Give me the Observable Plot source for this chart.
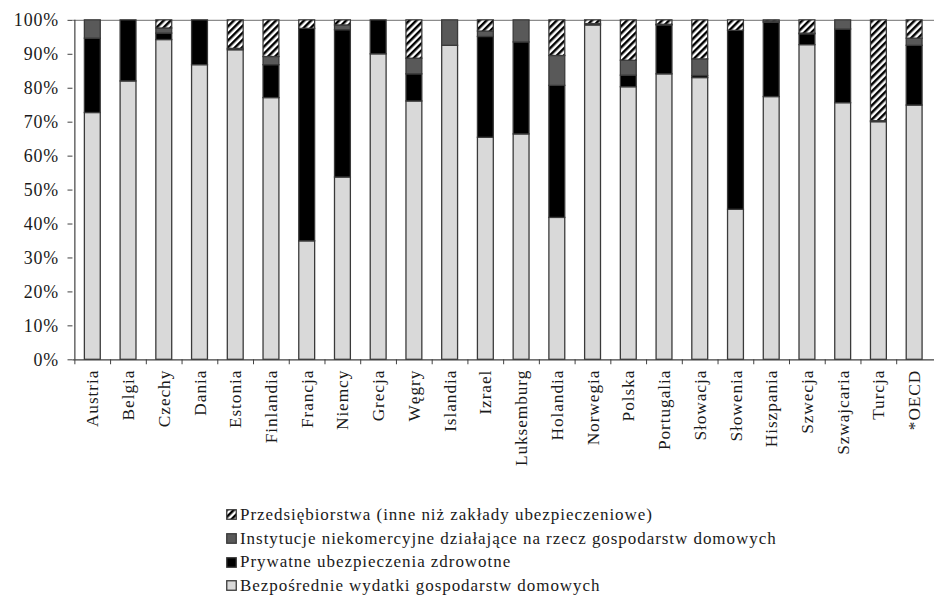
<!DOCTYPE html>
<html><head><meta charset="utf-8">
<script src="https://cdn.jsdelivr.net/npm/d3@7"></script>
<script src="https://cdn.jsdelivr.net/npm/@observablehq/plot@0.6"></script>
</head><body style="margin:0;padding:0;overflow:hidden;background:#fff;"><div id="chart" style="position:relative;width:934px;height:600px;overflow:hidden;"></div>
<script>
const categories = ["Austria","Belgia","Czechy","Dania","Estonia","Finlandia","Francja","Niemcy","Grecja","Węgry","Islandia","Izrael","Luksemburg","Holandia","Norwegia","Polska","Portugalia","Słowacja","Słowenia","Hiszpania","Szwecja","Szwajcaria","Turcja","*OECD"];
const bezposrednie     = [72.7, 82.0, 94.2, 86.8, 91.2, 77.1, 34.9, 53.7, 90.0, 76.1, 92.5, 65.4, 66.4, 41.8, 98.5, 80.3, 84.1, 83.0, 44.2, 77.4, 92.7, 75.6, 70.0, 74.9];
const prywatne         = [21.9, 18.0,  1.9, 13.2,  0.4,  9.7, 62.6, 43.4, 10.0,  8.0,  0.0, 29.7, 27.1, 38.9,  0.4,  3.4, 14.4,  0.6, 52.7, 21.9,  3.2, 21.7,  0.3, 17.6];
const instytucje       = [ 5.4,  0.0,  1.5,  0.0,  0.0,  2.4,  0.0,  1.4,  0.0,  4.6,  7.5,  1.6,  6.5,  8.8,  0.0,  4.4,  0.2,  4.9,  0.0,  0.3,  0.2,  2.7,  0.0,  2.1];
const przedsiebiorstwa = [ 0.0,  0.0,  2.4,  0.0,  8.4, 10.8,  2.5,  1.5,  0.0, 11.3,  0.0,  3.3,  0.0, 10.5,  1.1, 11.9,  1.3, 11.5,  3.1,  0.4,  3.9,  0.0, 29.7,  5.4];
const seriesNames = [
  "Bezpośrednie wydatki gospodarstw domowych",
  "Prywatne ubezpieczenia zdrowotne",
  "Instytucje niekomercyjne działające na rzecz gospodarstw domowych",
  "Przedsiębiorstwa (inne niż zakłady ubezpieczeniowe)"
];
const seriesColors = ["#d9d9d9", "#000000", "#595959", "url(#hatch)"];
const yTicks = [0, 0.1, 0.2, 0.3, 0.4, 0.5, 0.6, 0.7, 0.8, 0.9, 1];

const FONT = "Liberation Serif";

const seriesValues = [bezposrednie, prywatne, instytucje, przedsiebiorstwa];
const data = [];
categories.forEach((c, i) => {
  seriesNames.forEach((s, j) => data.push({country: c, series: s, value: seriesValues[j][i]}));
});

const W = 941, ML = 73, MR = 0;
const step = (W - ML - MR) / categories.length;

const svg = Plot.plot({
  width: W, height: 480,
  marginLeft: ML, marginRight: MR, marginTop: 20, marginBottom: 118,
  style: {fontFamily: FONT, fontSize: "17px", color: "#1a1a1a", background: "#fff"},
  x: {domain: categories, paddingInner: 0.56, paddingOuter: 0.28, label: null},
  y: {domain: [0, 1], label: null},
  color: {domain: seriesNames, range: seriesColors},
  marks: [
    Plot.ruleY([1], {stroke: "#8c8c8c", strokeWidth: 1.2}),
    Plot.barY(data, Plot.stackY({offset: "normalize"}, {x: "country", y: "value", fill: "series", stroke: "#3a3a3a", strokeWidth: 1.3})),
    Plot.ruleY([0], {stroke: "#404040", strokeWidth: 1.2}),
    Plot.ruleX([categories[0]], {dx: -step / 2, stroke: "#404040", strokeWidth: 1.2}),
    Plot.axisY({ticks: yTicks, tickFormat: d3.format(".0%"), tickSize: 5, tickPadding: 9, label: null, stroke: "#404040", fontSize: 18, className: "yax"}),
    Plot.axisX({tickSize: 5, tickFormat: () => "", dx: -step / 2, label: null, stroke: "#404040"}),
    Plot.axisX({tickSize: 0, tickPadding: 10, tickRotate: -90, label: null, fontSize: 17.5, className: "xax"})
  ]
});

d3.select(svg).selectAll("text").attr("font-family", FONT).style("font-family", FONT)
  .style("letter-spacing", "0.9px");

const defs = d3.select(svg).insert("defs", ":first-child");
const pat = defs.append("pattern").attr("id", "hatch").attr("patternUnits", "userSpaceOnUse")
  .attr("width", 5).attr("height", 5).attr("patternTransform", "rotate(45)");
pat.append("rect").attr("width", 5).attr("height", 5).attr("fill", "#fff");
pat.append("rect").attr("width", 2.5).attr("height", 5).attr("fill", "#000");

const chart = document.getElementById("chart");
chart.appendChild(svg);

const legend = d3.select(chart).append("div")
  .style("position", "absolute").style("left", "226px").style("top", "503px")
  .style("font-family", FONT).style("font-size", "17px").style("letter-spacing", "0.95px")
  .style("line-height", "23.7px").style("color", "#1a1a1a");
[3, 2, 1, 0].forEach(j => {
  const item = legend.append("div").style("display", "flex").style("align-items", "center").style("white-space", "nowrap");
  const sw = item.append("svg").attr("width", 11).attr("height", 11).style("margin-right", "3px").style("flex", "none");
  sw.append("rect").attr("x", 0.75).attr("y", 0.75).attr("width", 9.5).attr("height", 9.5)
    .attr("fill", seriesColors[j]).attr("stroke", "#3a3a3a").attr("stroke-width", 1.3);
  item.append("span").text(seriesNames[j]);
});
</script>
</body></html>
